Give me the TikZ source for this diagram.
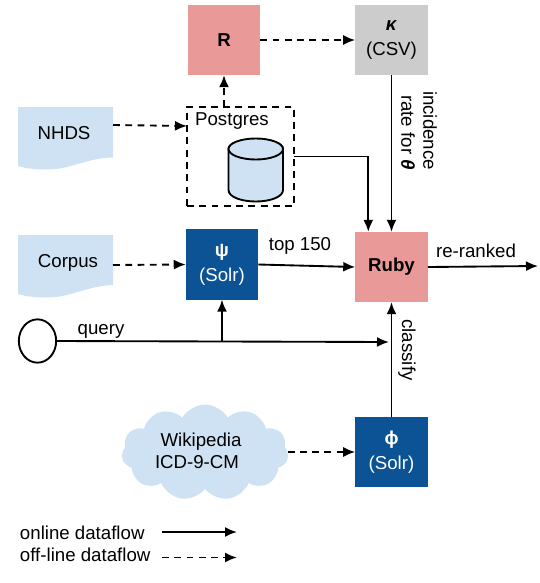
\documentclass[tikz,border=0pt]{standalone}
\usepackage{fontspec}
\setmainfont{Liberation Sans}
\usetikzlibrary{arrows.meta,calc,shapes.geometric,shapes.symbols}
\definecolor{pinkbox}{HTML}{EA9999}
\definecolor{graybox}{HTML}{CCCCCC}
\definecolor{bluebox}{HTML}{0B5394}
\definecolor{palebox}{HTML}{CFE2F3}
\tikzset{
  every node/.style={font=\fontsize{14}{16.5}\selectfont,inner sep=0pt,outer sep=0pt},
  square/.style={minimum width=54.4pt,minimum height=52.8pt,align=center},
  pinksq/.style={square,fill=pinkbox},
  graysq/.style={square,fill=graybox},
  bluesq/.style={square,fill=bluebox,text=white},
  docarea/.style={minimum width=71.25pt,minimum height=47pt},
  online/.style={draw=black,line width=1.4pt,-{Latex[length=9pt,width=7.5pt]}},
  offline/.style={online,dash pattern=on 5.2pt off 4pt},
  outline/.style={draw=black,line width=1.4pt},
}
\begin{document}
\begin{tikzpicture}[x=0.75pt,y=-0.75pt]
\useasboundingbox (0,0) rectangle (540,583);
% document shapes
\fill[palebox] (18,107) -- (113,107) -- (113,157.5) .. controls (85,158) and (72,170) .. (44,169.5) .. controls (33,169.5) and (25,168) .. (18,166) -- cycle;
\fill[palebox] (18,235) -- (113,235) -- (113,285) .. controls (85,286) and (72,298) .. (44,297.5) .. controls (33,297.5) and (25,296) .. (18,294) -- cycle;
\node[docarea] (nhds) at (65.5,131) {};
\node (nhdstext) at (64,133) {NHDS};
\node[docarea] (corpus) at (65.5,265) {};
\node (corpustext) at (68,262.5) {Corpus};
% boxes
\node[pinksq] (r) at (224,40) {\textbf{R}};
\node[graysq] (kappa) at (391.5,40) {\textbf{\textit{κ}}\\[2pt](CSV)};
\node[pinksq] (ruby) at (391.5,267) {\textbf{Ruby}};
\node[bluesq] (psi) at (222,264.5) {\textbf{ψ}\\[2pt](Solr)};
\node[bluesq] (phi) at (391.5,452) {\textbf{ϕ}\\[2pt](Solr)};
% postgres
\node[outline,dash pattern=on 5.2pt off 4pt,minimum width=80.25pt,minimum height=74.25pt] (postgres) at (240.5,156.5) {};
\node (pglabel) at (232,121) {Postgres};
% cylinder
\path[outline,fill=palebox] (228.5,149) arc[x radius=27.25,y radius=10,start angle=180,end angle=360] -- (283,190) .. controls (283,197) and (270,201.5) .. (255.75,201.5) .. controls (241.5,201.5) and (228.5,197) .. (228.5,190) -- cycle;
\path[outline,fill=palebox] (255.75,149) ellipse[x radius=27.25,y radius=10.5];
% query
\node[outline,ellipse,minimum width=28pt,minimum height=32.5pt] (query) at (37.5,341) {};
\node (querylabel) at (101,331) {query};
% cloud
\node[cloud,cloud puffs=11,cloud puff arc=120,aspect=1.75,fill=palebox,minimum width=125pt,minimum height=72pt] (cloud) at (205,452.5) {};
\node[align=center] (cloudtext) at (197,450.5) {\hspace*{6pt}Wikipedia\\ICD-9-CM};
% free ends
\coordinate (qe) at (389,342);
\coordinate (qj) at (222,342);
\coordinate (rr) at (538,266);
\coordinate (l1a) at (162,532);
\coordinate (l1b) at (237,532);
\coordinate (l2a) at (162,557.5);
\coordinate (l2b) at (237,557.5);
% connectors
\draw[offline] ([yshift=4.5pt]nhds.east) -- (postgres.west |- 0,126);
\draw[offline] (postgres.north -| r.south) -- (r.south);
\draw[offline] (r.east) -- (kappa.west);
\draw[online] (kappa.south) -- (ruby.north);
\draw[online] (postgres.east) -| ($(ruby.north west)!0.36!(ruby.north)$);
\draw[offline] (corpus.east) -- (psi.west);
\draw[online] (psi.east) -- (ruby.west);
\draw[online] (ruby.east) -- (rr);
\draw[online] (query.east) -- (qe);
\draw[online] (qj) -- (psi.south);
\draw[online] (phi.north) -- (ruby.south);
\draw[offline] (cloud.east |- phi.west) -- (phi.west);
\draw[online] (l1a) -- (l1b);
\draw[offline] (l2a) -- (l2b);
% labels
\node (top) at (300,246) {top 150};
\node (reranked) at (476,251) {re-ranked};
\node[rotate=-90] (classify) at (407,350) {classify};
\node[rotate=-90,align=right] (incidence) at (419,130.5) {incidence\\rate for \textbf{\textit{θ}}};
\node[anchor=west] (leg1) at (20,533) {online dataflow};
\node[anchor=west] (leg2) at (20,555) {off-line dataflow};
\end{tikzpicture}
\end{document}
